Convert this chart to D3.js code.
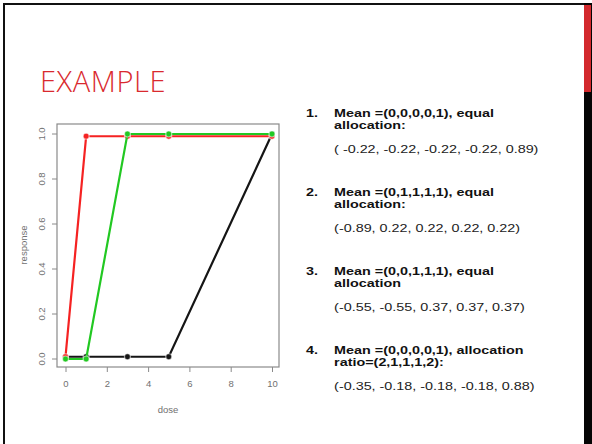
<!DOCTYPE html>
<html>
<head>
<meta charset="utf-8">
<title>Example</title>
<script src="https://d3js.org/d3.v7.min.js"></script>
<style>
html, body { margin: 0; padding: 0; background: #fff; }
svg { display: block; }
.axis path, .axis line { stroke: #8a8a8a; }
.axis text { fill: #707070; font-family: "Liberation Sans", Arial, sans-serif; font-size: 9.5px; }
</style>
</head>
<body>
<script>
// dose levels and mean response per scenario
let doses = [0, 1, 3, 5, 10];
let meanBlack = [0.01, 0.01, 0.01, 0.01, 1.0];
let meanRed = [0.01, 0.99, 0.99, 0.99, 0.99];
let meanGreen = [0.0, 0.0, 1.0, 1.0, 1.0];
let xTicks = [0, 2, 4, 6, 8, 10];
let yTicks = [0, 0.2, 0.4, 0.6, 0.8, 1.0];

let items = [
    {num: '1.', head: ['Mean =(0,0,0,0,1), equal', 'allocation:'], val: '( -0.22, -0.22, -0.22, -0.22, 0.89)'},
    {num: '2.', head: ['Mean =(0,1,1,1,1), equal', 'allocation:'], val: '(-0.89, 0.22, 0.22, 0.22, 0.22)'},
    {num: '3.', head: ['Mean =(0,0,1,1,1), equal', 'allocation'], val: '(-0.55, -0.55, 0.37, 0.37,  0.37)'},
    {num: '4.', head: ['Mean =(0,0,0,0,1), allocation', 'ratio=(2,1,1,1,2):'], val: '(-0.35, -0.18, -0.18, -0.18, 0.88)'}
];

let svg = d3.select('body').append('svg').attr('width', 592).attr('height', 444);

// slide frame
svg.append('rect').attr('x', 3).attr('y', 3).attr('width', 2).attr('height', 441).attr('fill', '#111');
svg.append('rect').attr('x', 3).attr('y', 3).attr('width', 589).attr('height', 2).attr('fill', '#111');
svg.append('rect').attr('x', 584).attr('y', 3).attr('width', 8).attr('height', 441).attr('fill', '#050505');
svg.append('rect').attr('x', 584).attr('y', 5).attr('width', 7).attr('height', 87).attr('fill', '#d3292d');

svg.append('text').attr('x', 40).attr('y', 92)
    .attr('font-family', '"Open Sans", "Liberation Sans", sans-serif').attr('font-weight', 300)
    .attr('font-size', 29).attr('letter-spacing', 0.6).attr('fill', '#d9292e').text('EXAMPLE');

// plot
let x = d3.scaleLinear().domain([0, 10]).range([65.5, 272]);
let y = d3.scaleLinear().domain([0, 1]).range([359, 134]);

let plot = svg.append('g');
plot.append('rect').attr('x', 57).attr('y', 124).attr('width', 222).attr('height', 243)
    .attr('fill', 'none').attr('stroke', '#8a8a8a').attr('stroke-width', 1.2);

let xAxis = plot.append('g').attr('class', 'axis').attr('transform', 'translate(0,367)')
    .call(d3.axisBottom(x).tickValues(xTicks).tickSize(5).tickPadding(8).tickFormat(d3.format('d')));
xAxis.select('.domain').remove();

let yAxis = plot.append('g').attr('class', 'axis').attr('transform', 'translate(57,0)')
    .call(d3.axisLeft(y).tickValues(yTicks).tickSize(5).tickFormat(d3.format('.1f')));
yAxis.select('.domain').remove();
yAxis.selectAll('.tick').attr('transform', null);
yAxis.selectAll('.tick line').attr('y1', d => y(d)).attr('y2', d => y(d));
yAxis.selectAll('text').attr('text-anchor', 'middle').attr('x', 0).attr('y', 0).attr('dy', '0.35em')
    .attr('transform', d => 'translate(-15,' + y(d) + ') rotate(-90)');

plot.append('text').attr('x', 168).attr('y', 413).attr('text-anchor', 'middle')
    .attr('font-family', '"Liberation Sans", Arial, sans-serif').attr('font-size', 9.5).attr('fill', '#707070').text('dose');
plot.append('text').attr('transform', 'translate(27,245) rotate(-90)').attr('text-anchor', 'middle')
    .attr('font-family', '"Liberation Sans", Arial, sans-serif').attr('font-size', 9.5).attr('fill', '#707070').text('response');

let line = d3.line().x(d => x(d[0])).y(d => y(d[1]));
let series = [
    {vals: meanBlack, color: '#151515'},
    {vals: meanRed, color: '#f52222'},
    {vals: meanGreen, color: '#22c822'}
];
series.forEach(s => {
    let pts = doses.map((d, i) => [d, s.vals[i]]);
    plot.append('path').datum(pts).attr('d', line).attr('fill', 'none')
        .attr('stroke', s.color).attr('stroke-width', 2.2);
    plot.selectAll(null).data(pts).enter().append('circle')
        .attr('cx', d => x(d[0])).attr('cy', d => y(d[1])).attr('r', 3)
        .attr('fill', s.color).attr('stroke', '#fff').attr('stroke-opacity', 0.55).attr('stroke-width', 1.2);
});

// text list
let list = svg.append('g').attr('font-family', '"Liberation Sans", Arial, sans-serif').attr('font-size', 11.5).attr('fill', '#111');
items.forEach((it, i) => {
    let top = 117 + i * 79;
    let g = list.append('g').attr('transform', 'translate(306,' + top + ') scale(1.25,1)');
    g.append('text').attr('x', 0).attr('y', 0).attr('font-weight', 'bold').text(it.num);
    it.head.forEach((h, j) => {
        g.append('text').attr('x', 22.5).attr('y', j * 12.5).attr('font-weight', 'bold').text(h);
    });
    g.append('text').attr('x', 22.5).attr('y', 36).attr('fill', '#222').text(it.val);
});
</script>
</body>
</html>
